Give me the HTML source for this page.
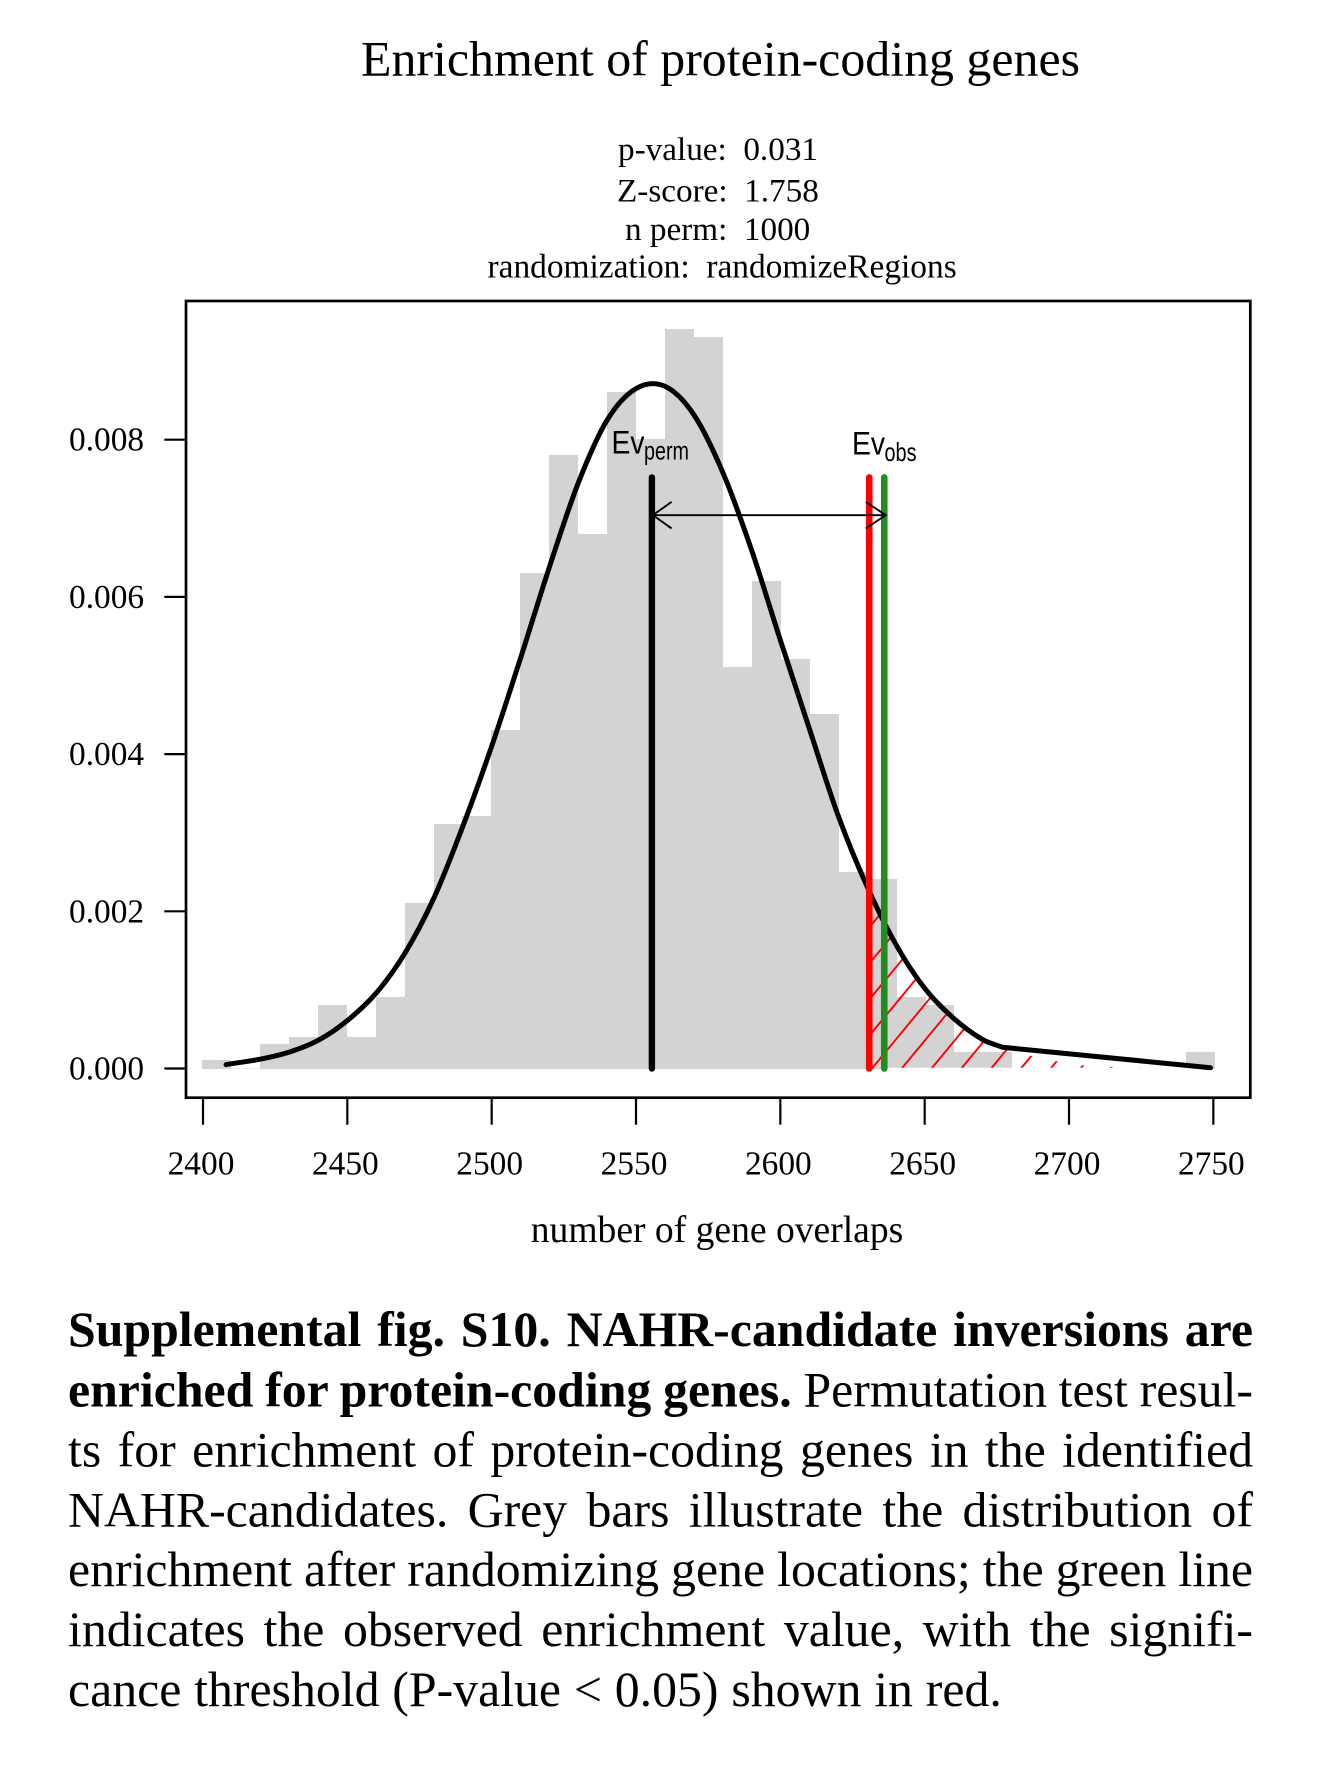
<!DOCTYPE html>
<html lang="en">
<head>
<meta charset="utf-8">
<title>Enrichment of protein-coding genes</title>
<style>
  html, body { margin: 0; padding: 0; background: #fff; }
  body { width: 1335px; height: 1779px; overflow: hidden; }
  svg { display: block; }
  text { font-family: "Liberation Serif", "Times New Roman", serif; fill: #000; white-space: pre; }
  .sans { font-family: "Liberation Sans", Arial, sans-serif; }
  .stat { font-size: 33.2px; }
  .tick-label { font-size: 33.4px; }
  .body-line { font-size: 49.8px; }
  .b { font-weight: bold; }
</style>
</head>
<body>
<svg id="figure" xmlns="http://www.w3.org/2000/svg" width="1335" height="1779" viewBox="0 0 1335 1779">
  <text x="361" y="75.5" font-size="49.9">Enrichment of protein-coding genes</text>

  <text class="stat" x="618" y="160">p-value:  0.031</text>
  <text class="stat" x="617" y="201.5">Z-score:  1.758</text>
  <text class="stat" x="625" y="240">n perm:  1000</text>
  <text class="stat" x="487.5" y="277.5" style="font-size:33.4px">randomization:  randomizeRegions</text>

  <g id="plot"></g>

  <text x="717" y="1242.2" font-size="37.6" text-anchor="middle">number of gene overlaps</text>

  <g>
    <text class="body-line b" data-w="1185" x="68" y="1346">Supplemental fig. S10. NAHR-candidate inversions are</text>
    <text class="body-line" data-w="1185" x="68" y="1406.7"><tspan class="b">enriched for protein-coding genes.</tspan> Permutation test resul-</text>
    <text class="body-line" data-w="1185" x="68" y="1466.5">ts for enrichment of protein-coding genes in the identified</text>
    <text class="body-line" data-w="1185" x="68" y="1526.3">NAHR-candidates. Grey bars illustrate the distribution of</text>
    <text class="body-line" data-w="1185" x="68" y="1586.2">enrichment after randomizing gene locations; the green line</text>
    <text class="body-line" data-w="1185" x="68" y="1646">indicates the observed enrichment value, with the signifi-</text>
    <text class="body-line" data-w="933.8" x="68" y="1706">cance threshold (P-value &lt; 0.05) shown in red.</text>
  </g>
</svg>
<script>
// ---- chart data ----
const binStarts = [2400,2410,2420,2430,2440,2450,2460,2470,2480,2490,2500,2510,2520,2530,2540,2550,2560,2570,2580,2590,2600,2610,2620,2630,2640,2650,2660,2670,2680,2690,2700,2710,2720,2730,2740];
const binDensity = [0.0001,0,0.0003,0.0004,0.0008,0.0004,0.0009,0.0021,0.0031,0.0032,0.0043,0.0063,0.0078,0.0068,0.0086,0.0080,0.0094,0.0093,0.0051,0.0062,0.0052,0.0045,0.0025,0.0024,0.0009,0.0008,0.0002,0.0002,0,0,0,0,0,0,0.0002];
const binWidth = 10;
const curveX = [2408,2420,2430,2440,2450,2460,2470,2480,2490,2500,2510,2520,2530,2540,2550,2560,2570,2580,2590,2600,2610,2620,2630,2640,2650,2660,2670,2677,2749];
const curveY = [0.00005,0.00012,0.00021,0.00036,0.00061,0.00096,0.00147,0.00217,0.00308,0.0041,0.00522,0.00638,0.00745,0.00825,0.00865,0.00868,0.00832,0.00759,0.0066,0.00545,0.00433,0.00322,0.00232,0.00158,0.00102,0.00064,0.00037,0.00027,0.00001];
const tailX = [2677,2687,2696,2705,2715,2725,2749];
const tailY = [0.00027,0.00016,0.00009,0.00004,0.00002,0.00001,0];
const xTicks = [2400,2450,2500,2550,2600,2650,2700,2750];
const yTicks = [0,0.002,0.004,0.006,0.008];
const yTickLabels = ["0.000","0.002","0.004","0.006","0.008"];
const evPerm = 2555.5;
const threshold = 2630.8;
const evObs = 2636;
const markerTop = 0.00752;
const arrowLevel = 0.00704;

// ---- axis functions ----
function xs(v) { return 203 + (v - 2400) * 2.8867; }
function ys(v) { return 1068.5 - v * 78600; }
function barX(v) { return Math.round(202 + (v - 2400) * 2.894); }

const NS = 'http://www.w3.org/2000/svg';
const plot = document.getElementById('plot');
function mk(tag, attrs, parent) {
  const el = document.createElementNS(NS, tag);
  for (const k in attrs) el.setAttribute(k, attrs[k]);
  (parent || plot).appendChild(el);
  return el;
}

// bars
binStarts.forEach(function (b, i) {
  const top = Math.floor(ys(binDensity[i]));
  const el = mk('rect', {
    x: barX(b),
    y: binDensity[i] > 0 ? top : 1068,
    width: barX(b + binWidth) - barX(b),
    height: binDensity[i] > 0 ? 1069 - top : 1,
    fill: binDensity[i] > 0 ? '#d3d3d3' : '#ececec',
    'shape-rendering': 'crispEdges'
  });
  
  
});

// curve value at an arbitrary x (linear between read points)
function curveAt(v) {
  for (let i = 0; i < curveX.length - 1; i++) {
    if (v >= curveX[i] && v <= curveX[i + 1]) {
      const t = (v - curveX[i]) / (curveX[i + 1] - curveX[i]);
      return curveY[i] + t * (curveY[i + 1] - curveY[i]);
    }
  }
  return 0;
}

// hatched tail
const defs = mk('defs', {});
const clip = mk('clipPath', { id: 'tail-clip' }, defs);
const regionPts = [[xs(threshold), ys(0)], [xs(threshold), ys(curveAt(threshold))]];
curveX.forEach(function (x, i) {
  if (x > threshold && x < tailX[0]) regionPts.push([xs(x), ys(curveY[i])]);
});
tailX.forEach(function (x, i) { regionPts.push([xs(x), ys(tailY[i])]); });
regionPts.push([xs(tailX[tailX.length - 1]), ys(0)]);
mk('polygon', { points: regionPts.map(function (p) { return p.join(','); }).join(' ') }, clip);

const hatchGroup = mk('g', { 'clip-path': 'url(#tail-clip)' });


for (let k = -6; k < 14; k++) {
  const bx = 901.7 + 29.8 * k;
  const h = mk('line', { x1: bx, y1: ys(0), x2: bx + 330, y2: ys(0) - 330 * 1.21, stroke: '#ff0000', 'stroke-width': 1.9 }, hatchGroup);
  
  
}
const tailBase = mk('line', { x1: xs(evObs), y1: ys(0) + 0.3, x2: xs(2749), y2: ys(0) + 0.3, stroke: '#ffffff', 'stroke-width': 2 });



// density curve: smooth spline through the read points, straight final segment
function curvePath() {
  const px = curveX.map(xs);
  const py = curveY.map(ys);
  const last = px.length - 2;
  const slope = function (i) {
    const a = Math.max(i - 1, 0), b = Math.min(i + 1, last);
    return (py[b] - py[a]) / (px[b] - px[a]);
  };
  let d = 'M' + px[0] + ' ' + py[0];
  for (let i = 0; i < last; i++) {
    const dx = (px[i + 1] - px[i]) / 3;
    d += 'C' + (px[i] + dx) + ' ' + (py[i] + slope(i) * dx) + ' ' +
         (px[i + 1] - dx) + ' ' + (py[i + 1] - slope(i + 1) * dx) + ' ' +
         px[i + 1] + ' ' + py[i + 1];
  }
  d += 'L' + px[last + 1] + ' ' + py[last + 1];
  return d;
}
const curve = mk('path', {
  d: curvePath(),
  fill: 'none', stroke: '#000', 'stroke-width': 5, 'stroke-linecap': 'round', 'stroke-linejoin': 'round'
});



// marker lines
const permLine = mk('line', { x1: xs(evPerm), y1: ys(0), x2: xs(evPerm), y2: ys(markerTop), stroke: '#000', 'stroke-width': 6.4, 'stroke-linecap': 'round' });


const thresholdLine = mk('line', { x1: xs(threshold), y1: ys(0), x2: xs(threshold), y2: ys(markerTop), stroke: '#ff0000', 'stroke-width': 6.6, 'stroke-linecap': 'round' });


const obsLine = mk('line', { x1: xs(evObs), y1: ys(0), x2: xs(evObs), y2: ys(markerTop), stroke: '#228b22', 'stroke-width': 6.6, 'stroke-linecap': 'round' });



// double-headed arrow
const ax1 = xs(evPerm) + 1, ax2 = xs(evObs) + 1.5, ay = ys(arrowLevel);
const arrow = mk('path', {
  d: 'M' + ax1 + ' ' + ay + 'L' + ax2 + ' ' + ay +
     'M' + (ax1 + 18.7) + ' ' + (ay - 13.3) + 'L' + ax1 + ' ' + ay + 'L' + (ax1 + 18.7) + ' ' + (ay + 13.3) +
     'M' + (ax2 - 20) + ' ' + (ay - 13.3) + 'L' + ax2 + ' ' + ay + 'L' + (ax2 - 20) + ' ' + (ay + 13.3),
  fill: 'none', stroke: '#000', 'stroke-width': 1.9
});



// Ev labels
function evText(str, x, y, size, len, name) {
  const t = mk('text', { x: x, y: y, 'font-size': size, textLength: len, lengthAdjust: 'spacingAndGlyphs', class: 'sans' });
  t.textContent = str;
  
  
}
evText('Ev', 611.5, 453.5, 32, 33, 'ev-perm-label');
evText('perm', 644, 459.5, 26, 45, 'ev-perm-subscript');
evText('Ev', 852, 454.5, 32, 33, 'ev-obs-label');
evText('obs', 884.5, 461, 26, 32, 'ev-obs-subscript');

// plot frame
const frame = mk('rect', { x: 186, y: 301, width: 1064.3, height: 796.7, fill: 'none', stroke: '#000', 'stroke-width': 2.7 });



// x axis
xTicks.forEach(function (v) {
  const t = mk('line', { x1: xs(v), y1: 1097.7, x2: xs(v), y2: 1124.7, stroke: '#000', 'stroke-width': 2.2 });
  
  
  const l = mk('text', { x: xs(v) - 2, y: 1174.3, 'text-anchor': 'middle', class: 'tick-label' });
  l.textContent = String(v);
  
  
});

// y axis
yTicks.forEach(function (v, i) {
  const t = mk('line', { x1: 164.3, y1: ys(v), x2: 186, y2: ys(v), stroke: '#000', 'stroke-width': 2.2 });
  
  
  const l = mk('text', { x: 69, y: ys(v) + 11, class: 'tick-label' });
  l.textContent = yTickLabels[i];
  
  
});

// justify caption lines by adjusting only the word gaps
document.querySelectorAll('.body-line').forEach(function (line) {
  const target = parseFloat(line.getAttribute('data-w'));
  const gaps = line.textContent.split(' ').length - 1;
  const natural = line.getComputedTextLength();
  line.style.wordSpacing = ((target - natural) / gaps) + 'px';
});
</script>
</body>
</html>
